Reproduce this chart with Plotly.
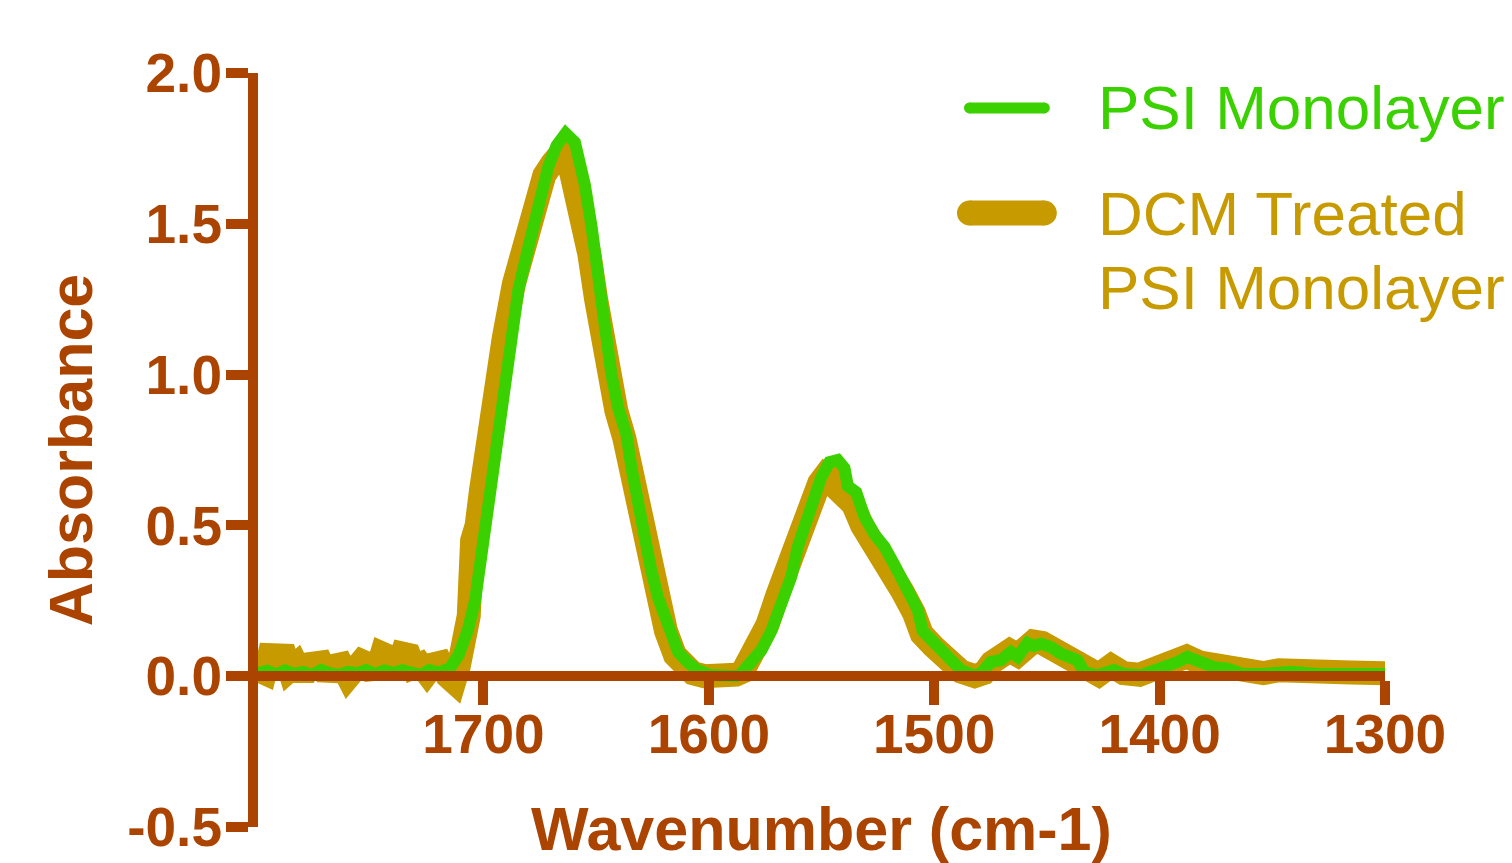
import plotly.graph_objects as go

# ---------------- data ----------------
psi_wn = [1800, 1796, 1792, 1788, 1784, 1780, 1776, 1772, 1768, 1764, 1760, 1756, 1752, 1748,
          1744, 1740, 1736, 1732, 1728, 1724, 1720, 1717, 1715, 1711, 1707, 1703.7, 1700,
          1696.3, 1692.7, 1688.9, 1684.5, 1680.1, 1675.6, 1671.2, 1667.5, 1663.5, 1659.4,
          1655, 1652, 1649.1, 1646.1, 1643.2, 1640.2, 1636.5, 1634.3, 1631.4, 1628.4, 1625.5,
          1622.5, 1618.1, 1613.6, 1609.2, 1605, 1600, 1596, 1592, 1588, 1585.6, 1581.2,
          1576.7, 1572.3, 1567.9, 1563.4, 1560.5, 1558.3, 1554.6, 1550.1, 1546.5, 1542.8,
          1539.8, 1538.3, 1534.6, 1531, 1526.5, 1522.1, 1517.7, 1513.3, 1507.3, 1505.1, 1500,
          1494, 1488.1, 1482.2, 1479.3, 1474.9, 1470.4, 1466, 1463, 1458.6, 1455.7, 1452.7,
          1448.3, 1443.8, 1436.4, 1433.5, 1427.6, 1420.2, 1415.8, 1408.4, 1401, 1396.6,
          1392.1, 1387.7, 1381.8, 1375.9, 1370, 1362.6, 1353.7, 1341.9, 1330, 1315, 1300]
psi_abs = [0.010, 0.018, 0.006, 0.019, 0.008, 0.014, 0.004, 0.020, 0.009, 0.004, 0.014, 0.010,
           0.020, 0.007, 0.019, 0.011, 0.020, 0.010, 0.004, 0.020, 0.012, 0.020, 0.025, 0.07,
           0.15, 0.25, 0.45, 0.70, 0.89, 1.08, 1.28, 1.42, 1.58, 1.69, 1.76, 1.80, 1.77, 1.63,
           1.49, 1.30, 1.12, 1.00, 0.89, 0.80, 0.69, 0.56, 0.45, 0.35, 0.26, 0.16, 0.08, 0.045,
           0.02, 0.005, 0.0, -0.003, 0.0, 0.009, 0.043, 0.086, 0.15, 0.24, 0.33, 0.43, 0.48,
           0.56, 0.66, 0.71, 0.717, 0.69, 0.63, 0.61, 0.53, 0.47, 0.43, 0.37, 0.30, 0.22, 0.15,
           0.11, 0.053, 0.02, 0.003, 0.009, 0.047, 0.053, 0.08, 0.064, 0.11, 0.10, 0.108, 0.097,
           0.075, 0.053, 0.014, 0.003, 0.02, 0.007, 0.003, 0.02, 0.03, 0.047, 0.064, 0.042,
           0.03, 0.025, 0.007, 0.007, 0.015, 0.007, 0.01, 0.007]

dcm_wn = [1800, 1797, 1795, 1791, 1788, 1786, 1783, 1780, 1777, 1772, 1769, 1766, 1763, 1760,
          1757, 1754, 1751, 1748, 1745, 1742, 1739, 1736, 1733, 1731, 1728, 1725, 1722, 1719,
          1716, 1713, 1711, 1709, 1706.5, 1705, 1703, 1701, 1698, 1694.5, 1691, 1686.5, 1682,
          1677.5, 1673, 1669.5, 1666.5, 1665, 1662, 1659.5, 1656, 1653, 1650, 1647, 1644,
          1641, 1637.5, 1635, 1632, 1629, 1626, 1623, 1619, 1615, 1611, 1607, 1602, 1597,
          1592, 1588, 1585, 1582, 1578, 1574, 1569.5, 1565, 1562, 1558.5, 1555, 1551, 1548,
          1545.5, 1543, 1540, 1536, 1532, 1527.5, 1523, 1518.5, 1514, 1509, 1505.5, 1500.5,
          1494.5, 1488, 1482, 1478, 1474.5, 1470, 1466.5, 1463, 1459, 1456, 1452, 1448, 1444,
          1437, 1433, 1427, 1421.5, 1416, 1409, 1401.5, 1397, 1392, 1388, 1382, 1376, 1370,
          1363, 1354, 1347, 1341, 1330, 1315, 1300]
dcm_abs = [0.02, 0.01, 0.07, 0.065, 0.068, 0.02, 0.04, -0.005, 0.04, 0.045, -0.003, 0.035,
           0.04, -0.004, 0.045, 0.05, 0.04, 0.0, 0.075, 0.065, 0.01, 0.075, 0.07, 0.03, 0.04,
           0.01, 0.04, 0.045, 0.0, -0.02, 0.03, 0.12, 0.20, 0.45, 0.50, 0.62, 0.80, 0.95, 1.12,
           1.30, 1.45, 1.58, 1.66, 1.70, 1.73, 1.74, 1.70, 1.62, 1.55, 1.40, 1.25, 1.10, 0.98,
           0.88, 0.79, 0.70, 0.57, 0.46, 0.36, 0.26, 0.15, 0.07, 0.03, 0.01, 0.0, -0.005, 0.0,
           0.005, 0.015, 0.05, 0.10, 0.17, 0.27, 0.36, 0.45, 0.52, 0.58, 0.64, 0.67, 0.66, 0.62,
           0.60, 0.57, 0.50, 0.45, 0.41, 0.35, 0.28, 0.21, 0.14, 0.10, 0.05, 0.015, 0.0, 0.01,
           0.045, 0.06, 0.085, 0.07, 0.11, 0.115, 0.11, 0.095, 0.08, 0.055, 0.02, 0.005, 0.035,
           0.01, 0.005, 0.025, 0.035, 0.05, 0.065, 0.045, 0.035, 0.025, 0.01, 0.01, 0.02, 0.015,
           0.01, 0.012, 0.01]

x_tickvals = [1700, 1600, 1500, 1400, 1300]
x_ticktext = ["1700", "1600", "1500", "1400", "1300"]
y_tickvals = [-0.5, 0.0, 0.5, 1.0, 1.5, 2.0]
y_ticktext = ["-0.5", "0.0", "0.5", "1.0", "1.5", "2.0"]

series_names = ["PSI Monolayer", "DCM Treated<br>PSI Monolayer"]

# ---------------- style ----------------
AXIS = "#AA4400"
GREEN = "#3BD100"
GOLD = "#C79A00"
FONT = "Liberation Sans, Arial, sans-serif"

fig = go.Figure()
fig.add_trace(go.Scatter(
    x=dcm_wn, y=dcm_abs, mode="lines", name=series_names[1],
    line=dict(color=GOLD, width=24), showlegend=False,
))
fig.add_trace(go.Scatter(
    x=psi_wn, y=psi_abs, mode="lines", name=series_names[0],
    line=dict(color=GREEN, width=12), showlegend=False,
))

# ---------------- legend (drawn as layout items) ----------------
shapes = []
annotations = []
legend_items = [
    # (colour, line width, centre y in paper, text lines, text y positions)
    (GREEN, 11, 0.9536, ["PSI Monolayer"], [0.9536]),
    (GOLD, 25, 0.8143, ["DCM Treated", "PSI Monolayer"], [0.8143, 0.7149]),
]
x_line0, x_line1 = 0.6313, 0.6977   # paper coords of sample line core
for colour, lw, yc, lines, ys in legend_items:
    shapes.append(dict(type="line", xref="paper", yref="paper",
                       x0=x_line0, x1=x_line1, y0=yc, y1=yc,
                       line=dict(color=colour, width=lw), layer="above"))
    r = lw / 2
    for xa in (x_line0, x_line1):
        shapes.append(dict(type="circle", xref="paper", yref="paper",
                           xsizemode="pixel", ysizemode="pixel",
                           xanchor=xa, yanchor=yc, x0=-r, x1=r, y0=-r, y1=r,
                           fillcolor=colour, line=dict(width=0), layer="above"))
    for t, yy in zip(lines, ys):
        annotations.append(dict(text=t, xref="paper", yref="paper", x=0.7432, y=yy,
                                xanchor="left", yanchor="middle", showarrow=False,
                                font=dict(family=FONT, size=62, color=colour)))

fig.update_layout(
    width=1512, height=863,
    margin=dict(l=258, r=126.5, t=73, b=36, autoexpand=False),
    paper_bgcolor="white", plot_bgcolor="white",
    font=dict(family=FONT, color=AXIS),
    showlegend=False,
    shapes=shapes, annotations=annotations,
    xaxis=dict(
        range=[1800, 1300], anchor="free", position=0.2, automargin=False,
        showline=True, linecolor=AXIS, linewidth=10,
        ticks="outside", ticklen=24, tickwidth=10, tickcolor=AXIS,
        tickvals=x_tickvals, ticktext=x_ticktext, ticklabelstandoff=-18,
        tickfont=dict(family=FONT, size=55, weight="bold", color=AXIS),
        showgrid=False, zeroline=False,
        title=dict(text="Wavenumber (cm-1)", standoff=44,
                   font=dict(family=FONT, size=61, weight="bold", color=AXIS)),
    ),
    yaxis=dict(
        range=[-0.5, 2.0], domain=[0, 1], automargin=False,
        showline=True, linecolor=AXIS, linewidth=10,
        ticks="outside", ticklen=22, tickwidth=10, tickcolor=AXIS,
        tickvals=y_tickvals, ticktext=y_ticktext, ticklabelstandoff=-7,
        tickfont=dict(family=FONT, size=55, weight="bold", color=AXIS),
        showgrid=False, zeroline=False,
        title=dict(text="Absorbance", standoff=19,
                   font=dict(family=FONT, size=61, weight="bold", color=AXIS)),
    ),
)

fig.write_html("out.html")
